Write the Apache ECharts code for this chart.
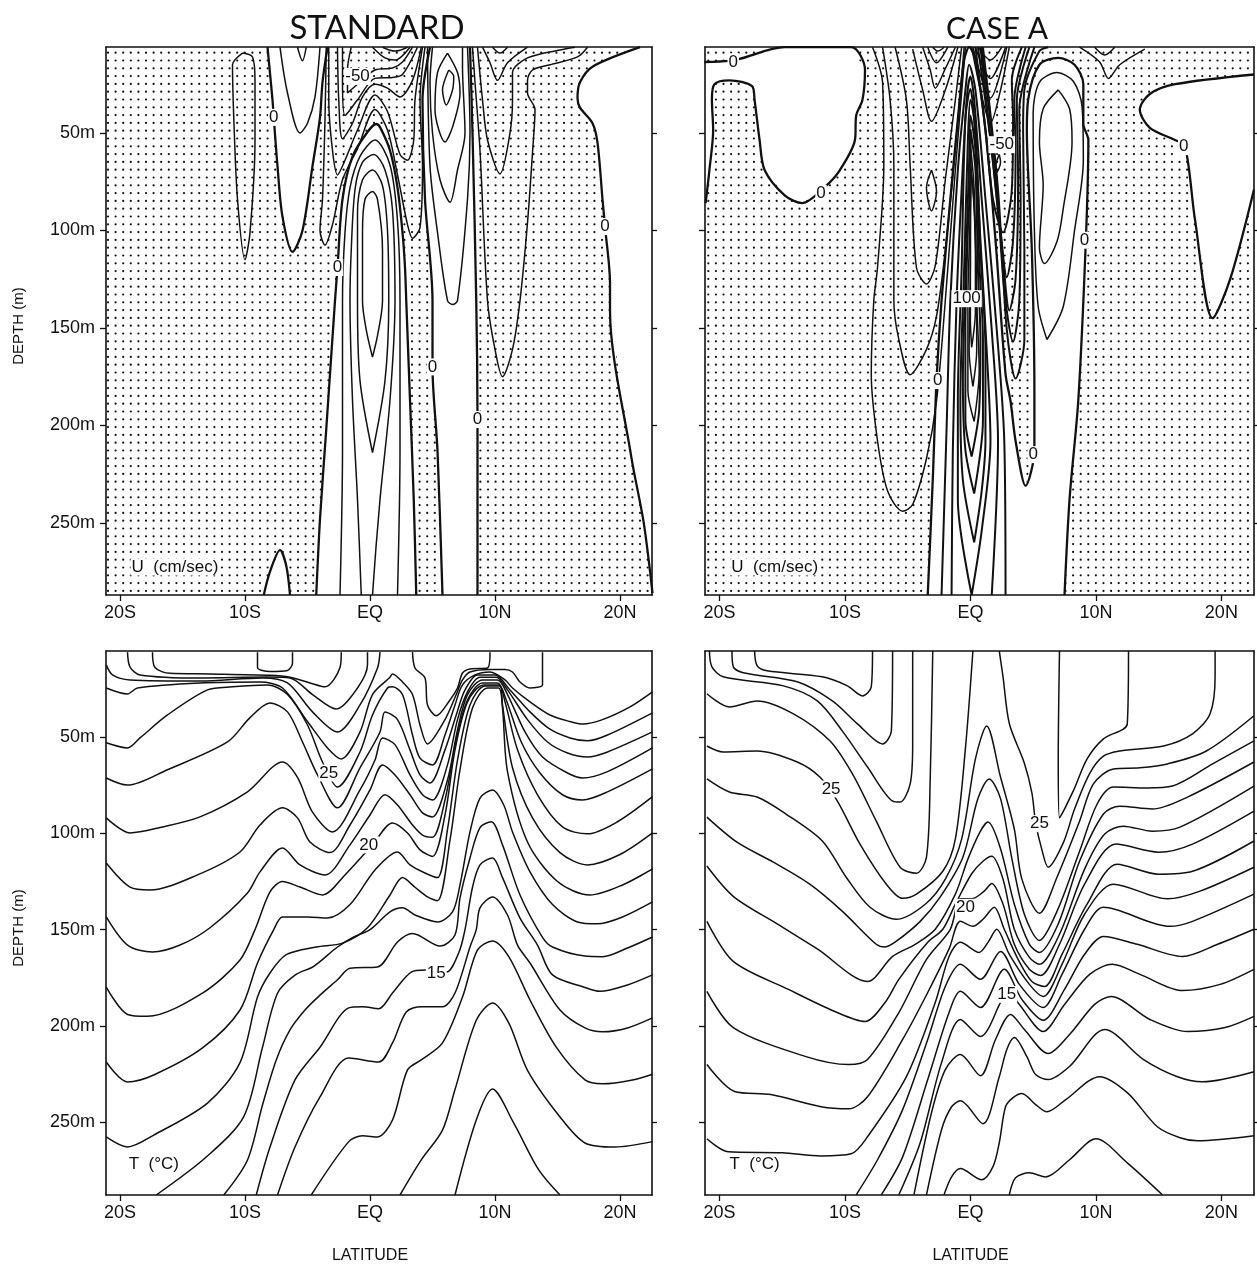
<!DOCTYPE html>
<html>
<head>
<meta charset="utf-8">
<style>html,body{margin:0;background:#fff}#main{width:1257px;height:1267px}</style>
<script src="https://cdn.jsdelivr.net/npm/echarts@6/dist/echarts.min.js"></script>
</head>
<body>
<div id="main"></div>
<script>
// axis ticks
const latTicks = [-20, -10, 0, 10, 20];
const latNames = { '-20': '20S', '-10': '10S', '0': 'EQ', '10': '10N', '20': '20N' };
const depthTicks = [50, 100, 150, 200, 250];

// U, standard case: zero contours [lat, depth]
const uStdZeroWest = [[-8.2,6],[-7.8,33],[-7.7,42],[-7.4,67],[-7,93],[-6.2,111],[-5.4,100],[-4.6,67],[-4,42],[-3.8,24],[-3.4,6]];
const uStdZeroCenter = [[-4.3,287],[-4,248],[-3.5,202],[-2.8,136],[-2.6,119],[-2.2,84],[-1.4,62],[-.2,49.5],[.5,45.4],[.8,47],[1.6,59],[2.2,78],[2.6,101],[2.8,119],[2.9,136],[3.2,187],[3.5,238],[3.7,287]];
const uStdZeroEastL = [[4.8,6],[4.2,33],[4.4,84],[5,136],[5,170],[5.4,213],[5.8,287]];
const uStdZeroEastR = [[8,6],[8.2,50],[8.5,136],[8.6,197],[8.6,287]];
const uStdZeroFar = [[21.6,6],[17.8,16],[16.8,24],[16.6,32],[16.8,37],[17.8,45],[18.2,55],[18.6,84],[18.8,98],[19.2,127],[19.2,141],[20.9,216],[21.9,250],[22.6,286]];
const uStdZeroBump = [[-8.5,287],[-8,275],[-7.2,264],[-6.7,272],[-6.4,287]];
const uStdLines = [
  [[-10.2,9],[-11,15],[-10.9,42],[-10.6,84],[-10,115],[-9.6,101],[-9.2,54],[-9.2,23],[-9.4,11],[-10.2,9]],
  [[-7.2,6],[-6.6,29.5],[-5.6,50],[-5,45],[-4.4,31.5],[-4,6]],
  [[-5.8,6],[-5.4,13],[-5.1,6]],
  [[-2.4,287],[-2.2,213],[-2.2,136],[-2,101],[-1.6,78],[-.8,62],[.4,53.6],[1.6,66.4],[2.2,95],[2.4,136],[2.4,213],[2.2,287]],
  [[-.7,287],[-1,238],[-1.4,187],[-1.6,136],[-1.5,110],[-1.2,79],[-.6,65],[.3,61],[1.2,69],[1.8,89.5],[2,136],[1.6,187],[.8,238],[.2,287]],
  [[.2,214],[-.8,177],[-1,136],[-1,119],[-1,91],[-.6,74],[.2,69],[1,77],[1.4,100],[1.5,136],[1.2,177],[.2,214]],
  [[.2,165],[-.3,151],[-.6,136],[-.6,101],[-.4,84],[.2,80],[.6,84],[1,110],[1,136],[.6,154],[.2,165]],
  [[-3.5,6],[-3.6,43],[-3.8,84],[-4,100],[-3.6,107.5],[-3,97],[-2.2,74],[-1,58],[.4,38],[1.4,48.5],[2.2,71.5],[3,97],[3.4,104],[4,98.5],[4.2,67],[4,33],[4.4,6]],
  [[-3.3,6],[-3.3,33],[-3,59],[-2.6,71.5],[-2,64],[-1,48.5],[.4,30.5],[1.4,39],[2.4,61],[3,64],[3.5,53.6],[3.6,33],[4.2,6]],
  [[-2.6,6],[-2.5,33],[-2.2,53],[-1.4,45],[-.6,31.5],[.4,25],[1.4,27],[2.4,31.5],[3.4,23],[4.1,6]],
  [[-2.2,6],[-2.2,24],[-2,41],[-1,33],[.4,22],[1.8,21.5],[2.6,20],[3.8,6]],
  [[-1.5,6],[-1.8,17.7],[-1.8,29.5],[-1,25],[.4,17.7],[1.8,16.7],[2.6,13.6],[3.4,6]],
  [[.2,6],[1.2,11.5],[2,12.6],[3.2,6]],
  [[1,6],[2,8],[3,6]],
  [[5,6],[4.8,24],[5,50],[5.6,74],[6.4,85.5],[7,69],[7.6,50],[7.4,16],[7.4,6]],
  [[4.6,6],[4.8,67],[5.4,101],[6.2,136],[6.6,138],[7,136],[7.8,84],[8,50],[7.8,6]],
  [[6.2,9],[5.4,19],[5.2,38],[6,54.6],[6.6,47],[7.2,29.5],[7,19],[6.2,9]],
  [[6.3,17.7],[5.8,28],[6.1,35.6],[6.6,28],[6.7,21],[6.3,17.7]],
  [[8.2,6],[8.4,24],[8.8,59],[9.4,136],[10,161],[10.6,175],[11.4,161],[12,136],[12.6,96],[13,60],[13.2,38],[12.6,29.5],[12.6,23],[13,17.7],[14.4,15],[16.6,11],[17.4,6]],
  [[8.6,6],[9,33],[9.4,53.6],[10.4,71],[11.2,50],[11.4,33],[11.4,19],[12.6,11.5],[15.2,7.4],[16.4,6]],
  [[9,6],[9.6,14],[10.2,23],[11,14],[12.6,6]],
  [[9.8,6],[10.4,9],[11,6]]
];
const uStdLabels = [[-7.7,42,'0'],[-2.6,119,'0'],[5,170,'0'],[8.6,197,'0'],[18.8,98,'0'],[-1,21,'-50'],[-15.6,272.6,'U  (cm/sec)']];

// U, case A: zero contours
const uCaseZeroWest = [[-21.2,13.6],[-19.2,13],[-18.4,12],[-14.8,6],[-9.5,6],[-8.4,17.7],[-8.6,33],[-9.1,41],[-9.2,53.6],[-10.4,69],[-11.6,77.7],[-13.4,86],[-14.8,82],[-16.4,69],[-16.8,53.6],[-17.2,33],[-17.4,26],[-19.2,23],[-20.4,25],[-20.6,33],[-20.5,48.5],[-20.8,69],[-21.1,86]];
const uCaseZeroCenter = [[-3.4,287],[-3,228],[-2.7,177],[-2.3,136],[-1.6,84],[-1,43],[-.5,12.6],[-.1,6],[.4,12.6],[1.2,48.5],[2,105],[2.8,173.7],[3.2,187.6],[3.6,208],[4.4,231],[5.1,213],[5.1,182.7],[4.9,110.7],[4.5,48.5],[4.6,33],[5.5,15],[7,11.5],[8.3,15],[9,25],[9,45.4],[9.4,53.6],[9.2,105],[8.6,187],[7.9,238],[7.5,287]];
const uCaseZeroFar = [[22.6,20],[16.3,25],[14.3,30],[13.5,38],[14.3,47.4],[16.3,53.6],[17.1,56.7],[17.9,94.6],[19.3,145],[20.7,125],[22.6,79]];
// core of the narrow jet, drawn heavier
const uCaseJet = [
  [[-2.3,287],[-1.9,202],[-1.6,136],[-1,69],[-.4,28],[-.1,15],[.4,28],[1.2,84],[2.1,151],[2.7,208],[2.8,287]],
  [[-1.5,287],[-1.4,212.6],[-1.1,136],[-.7,79],[-.3,33],[0,21],[.3,33],[.9,84],[1.7,151],[2.2,208],[1.7,287]],
  [[.1,287],[-1,238],[-1,187],[-.7,120],[-.4,43],[0,27.5],[.3,43],[.8,105],[1.3,161.6],[1.6,208],[.9,254],[.1,287]],
  [[.3,260],[-.6,228],[-.8,187],[-.5,120],[-.2,53.6],[0,33],[.4,48.5],[.8,110],[1.2,161.6],[1.2,208],[.9,233.6],[.3,260]],
  [[.3,235],[-.4,212.6],[-.6,177],[-.4,125],[-.1,64],[0,41],[.4,59],[.7,115],[1,156],[1,197],[.3,235]],
  [[.1,216],[-.4,197],[-.4,151],[-.2,100],[0,71],[0,48],[.4,69],[.6,120],[.8,156],[.7,192],[.1,216]],
  [[.4,6],[1.2,48.5],[1.8,84],[2.6,101],[3.3,79],[3.4,43],[3.3,23],[4.1,6]],
  [[.6,6],[1.6,53.6],[2.4,100],[2.9,124],[3.4,105],[3.6,59],[3.5,33],[4.4,6]],
  [[.8,6],[1.7,59],[2.6,115],[3.1,141],[3.6,125],[3.8,74],[3.7,33],[4.7,6]],
  [[.9,6],[2,69],[2.7,130.5],[3.4,157],[3.9,135.7],[4,84],[3.9,38],[5.1,6]],
  [[1,6],[2.2,79],[2.9,151],[3.6,176],[4.3,156],[4.3,110],[4.2,48.5],[4.3,28],[5.5,8],[6.2,6]]
];
const uCaseLines = [
  [[-7.8,6],[-7,24],[-6.9,67],[-7.4,119],[-7.7,136],[-7.9,173.7],[-7.4,208],[-6.6,233.6],[-5.4,244],[-4.6,240.6],[-3.5,217],[-2.7,187.6],[-2,136],[-1.2,69],[-.4,6]],
  [[-7,6],[-6.4,33],[-6.1,67],[-6.1,136],[-5.7,156],[-4.8,174],[-3.5,161],[-2.7,144],[-2,110],[-1.2,58.7],[-.5,6]],
  [[-6,6],[-5.1,33],[-4.8,67],[-4.3,119],[-3.5,127.5],[-2.8,118],[-2,74],[-1.2,33],[-.7,6]],
  [[-4.6,7],[-3.8,28],[-3.1,44],[-2,28],[-1,6]],
  [[-3.8,6],[-3.2,17.7],[-2.8,27],[-2,17],[-1.2,6]],
  [[-3.4,6],[-2.7,14],[-1.8,6]],
  [[-3,6],[-2.6,8],[-2.1,6]],
  [[-3.1,69],[-3.5,78],[-3.1,90],[-2.7,80],[-3.1,69]],
  [[.3,198],[-.2,182],[-.2,136],[0,84],[0,56],[.3,79],[.5,136],[.7,172],[.3,198]],
  [[.2,180],[-.1,161.6],[0,115],[0,64],[.3,89.5],[.5,136],[.5,161.6],[.2,180]],
  [[.1,160],[0,146],[0,105],[.1,71.5],[.4,105],[.4,141],[.1,160]],
  [[.6,6],[1.6,12.6],[2.5,6]],
  [[.4,6],[1.6,22],[2.8,6]],
  [[.2,6],[1.6,32],[2.9,6]],
  [[.1,6],[.8,28],[1.6,44.8],[2.4,28],[3.1,6]],
  [[2.3,61],[2,67.5],[2.1,70],[2.4,65],[2.3,61]],
  [[6.1,156],[5.4,139],[5.1,100],[5,40],[5.5,24],[6.9,19],[8.2,23.5],[8.9,36.5],[9,64],[8.3,100],[7.4,139],[6.1,156]],
  [[7,27.9],[5.8,37.6],[5.5,54.6],[5.8,76.6],[5.5,109],[5.9,117],[6.9,105.7],[7.4,88.7],[8.1,54.6],[7.9,37.6],[7,27.9]],
  [[8.7,6],[10.3,13.6],[11,22],[11.9,15],[13.9,7]],
  [[9.9,6],[10.7,10],[11.5,6]]
];
const uCaseLabels = [[-18.9,13.5,'0'],[-11.9,81,'0'],[-2.6,177,'0'],[5,215,'0'],[9.1,105,'0'],[17,57,'0'],[2.5,56,'-50'],[-.3,135,'100'],[-15.6,272.6,'U  (cm/sec)']];

// T, standard case
const tStdLines = [
  [[-9,6],[-9,14],[-8,16],[-6.6,15.5],[-6.2,11.6],[-6.2,6]],
  [[-17.4,6],[-17.2,14],[-16,17],[-12.8,17.3],[-8,18],[-6.4,19],[-4.8,22],[-3.6,24],[-2.4,14],[-2.3,6]],
  [[-19.4,6],[-19.2,13.7],[-18.4,17.8],[-13.6,19.4],[-8.2,18.9],[-6.4,19.4],[-4.6,28],[-2.7,35.5],[-1,24.6],[-.2,12.6],[-.2,6]],
  [[-21.1,12.6],[-20.6,17.8],[-19.2,20.4],[-13.6,21],[-8.6,19.4],[-6.6,22],[-4.6,37],[-2.6,47.4],[-.8,33.4],[.6,14.2],[.8,6]],
  [[3.4,6],[3.6,14.2],[4.4,19.4],[4.6,33.4],[5.3,39],[6.4,30.8],[7,24.6],[7.4,16.8],[8,14.7],[9.4,14.2],[9.6,6]],
  [[-21.1,24.6],[-19.4,27.7],[-18.6,24.6],[-13.6,22],[-8.8,21.5],[-7,24.6],[-5,42],[-3.4,55.7],[-2.3,61.4],[-.8,47.4],[.2,28],[1.6,19],[1.8,17.3],[2.6,21.5],[3.4,28],[4,43.8],[4.6,53.6],[6,41],[6.9,28],[7.4,20.4],[8,16.3],[9.6,15],[10.8,15],[11.4,16.3],[12,21.5],[12.8,24.6],[13.8,23],[13.8,17.8],[13.8,6]],
  [[-21.1,53],[-19.4,55.7],[-18.4,50.5],[-16.2,38.6],[-13,25.6],[-11,24],[-8.2,23],[-6.6,28],[-5,43.8],[-3.8,63],[-2.6,76],[-.8,57.8],[.2,38.6],[1.4,24.6],[1.8,24],[2.6,28],[3.4,49],[4,61],[5,64.5],[6,49],[6.8,33.4],[7.4,23],[8.4,17.8],[9.6,16.3],[10.8,20.4],[11.4,24.6],[12.8,31.8],[14.4,38.6],[16,42],[17,43.3],[18.6,41],[20.8,34.4],[22.6,26.6]],
  [[-21.1,71.3],[-19.4,75],[-16.2,67],[-11.4,52.6],[-9.6,40],[-8,32.4],[-6.6,37],[-5.4,52.6],[-4.2,69.7],[-2.6,86.8],[-.8,66],[.8,47.4],[1.2,37],[2.2,41],[3.2,56.7],[4,69.7],[4.8,73.9],[6,56.7],[6.9,38.6],[7.6,25.6],[8.6,17.8],[10,17.8],[11.2,25.6],[12.8,37],[14.4,46],[16,50.5],[17.4,52],[19,49],[22.6,37.5]],
  [[-21.1,92],[-19.2,99.8],[-16.8,97],[-13.6,91.5],[-9.8,78.5],[-7,63],[-5.8,71],[-4.6,89],[-3,99.3],[-.8,77.5],[.4,62],[1,50.5],[2,54],[3.2,69.7],[4.2,80],[5,82.7],[6.2,64.5],[7,41],[7.8,26.6],[8.8,19],[10.1,19],[11,25.6],[12.6,41],[14.2,52.6],[15.8,58.3],[17.4,60.4],[19,57.8],[22.6,47.4]],
  [[-21.1,115.4],[-19.2,127.9],[-17.6,129.4],[-13.8,121.6],[-10.4,109.7],[-8.8,95.7],[-7,86.8],[-5.8,92],[-4.8,104.5],[-3.2,110],[-1.6,95.7],[0,77.5],[1,64.5],[2,69.7],[3.2,80],[4.2,89.4],[5,91.5],[6.2,72.3],[7,46.4],[7.8,28],[9,20.4],[10.2,20.4],[11,28],[12.4,47.4],[13.8,60.4],[15.8,68.7],[17,71.3],[19,68],[22.6,55.7]],
  [[-21.1,143.4],[-19.4,158],[-17.4,161.6],[-15.2,158],[-12.8,149],[-9.8,131],[-8.8,120],[-7,107.6],[-5.6,116.4],[-3.6,121.6],[-1.6,106],[0,90.5],[1.2,80],[2.2,85.3],[3.4,95.7],[4.2,100.9],[5,102],[6,82.7],[6.9,51.6],[7.8,30.8],[9,22],[10.2,22],[10.9,30.8],[12.1,52.6],[13.6,68.7],[15.4,80],[17,82.7],[19,78.5],[22.6,66.6]],
  [[-21.1,179.8],[-19.4,194],[-17.8,195],[-13.4,182.9],[-10.4,165.7],[-9.2,150],[-8,130.4],[-7,125],[-5.6,127.9],[-3.8,132],[-2,121.6],[.2,106],[1.8,94.6],[3,99.8],[4,108.6],[5,112],[6,90.5],[6.8,56.7],[7.8,31.8],[9.1,23],[10.3,23],[10.8,31.8],[11.8,56.7],[13.4,80],[15.4,96.7],[17.4,100.3],[19.8,94],[22.6,81]],
  [[-21.1,218.7],[-19.4,229],[-17.3,225.4],[-13.4,211.4],[-10.4,191.7],[-9,167.3],[-7.7,150],[-7,143.4],[-5,143.4],[-3.4,144],[-1.6,137],[.4,119],[2.2,109.7],[3.2,116.4],[4.4,120.6],[5.4,123],[6.2,98],[7,62],[8,33.4],[9.2,23.5],[10.4,23.5],[10.6,33.4],[11.4,66],[13,92],[15.2,110],[17.4,116.4],[20,111],[22.6,99.8]],
  [[-21.1,257.6],[-19.4,262.8],[-17.3,256.6],[-13,240],[-10.4,219],[-9,185],[-8,172.5],[-6.7,163],[-4.3,159],[-2.2,157],[-.2,149],[1.6,132],[2.6,123],[3.6,128],[4.6,133],[5.4,135],[6.4,103.5],[7.2,67],[8.2,35],[9.4,24.6],[10.3,24.6],[10.6,35],[11,68],[12.6,104.5],[15,125],[17.6,132],[20.2,126.8],[22.6,118.5]],
  [[-17.1,287.7],[-13.1,268],[-10.1,247],[-8.6,211],[-7.4,183],[-6,173.6],[-4.5,169],[-2.6,159],[-1.3,153.8],[0,150],[1.6,140.8],[2.6,138.7],[3.6,142.4],[5.4,146],[6.6,140.8],[7.2,126.8],[8,99.3],[8.8,81.7],[9.8,77.5],[10.7,85.3],[11.4,99.3],[12.8,120],[14.6,137],[16.6,146],[18.2,147],[20.2,143.4],[22.6,135.6]],
  [[-11.7,287.7],[-9.8,269.5],[-8.6,241],[-7.5,217.6],[-6.4,202],[-5.2,191.7],[-4,184],[-2.6,176],[-1.6,170],[.6,169.4],[2.2,156.4],[3.4,152],[5.6,158.5],[6.8,152.8],[7.2,133.6],[8,112.8],[8.8,97],[9.7,94],[10.6,106],[12,132],[13.8,154],[14.6,159],[17.2,163.7],[18.6,164],[20.6,159.5],[22.6,153.8]],
  [[-9.1,287.7],[-8,262.8],[-6,228],[-4,211],[-1.7,190.6],[-.6,190],[.7,191],[1.8,182.9],[3.3,172],[4.4,171],[6.1,172],[7.1,162],[7.6,150],[8.2,128],[8.8,116.4],[9.8,112.8],[10.6,123],[12,144],[13.4,158],[14.6,173.5],[17.2,180],[18.4,182],[20.6,178.7],[22.6,173.5]],
  [[-7.4,287.7],[-6,262.8],[-4,236.8],[-1.7,216.6],[.7,218.7],[1.8,208.8],[2.9,192.7],[4.1,190],[5.8,190],[6.8,182.9],[8,159],[8.5,150],[8.8,138.7],[9.8,133],[11,142.4],[11.8,158],[12.8,167.3],[15.2,191.7],[17.2,201],[18.6,203],[20.6,201],[22.6,195.8]],
  [[-4.7,287.7],[-1.7,260],[-.6,257],[.6,257.6],[1.8,248.8],[3,222.8],[4.1,217.6],[5.8,208.8],[7.4,185],[8.6,160.5],[9.8,155.9],[11.1,164],[12.8,186.5],[14.9,211],[17.2,228],[18.6,230],[21,228],[22.6,225]],
  [[2.4,287.7],[4.1,269.5],[5.8,254],[6.8,233],[8.5,197],[9.8,188],[11.1,198.4],[12.6,223],[15.2,247.2],[17.2,260.7],[19.6,262.8],[22.6,260]],
  [[6.8,287.7],[8.5,248.8],[9.8,232.7],[11.5,250.4],[13.5,274.7],[15.2,287.7]]
];
const tStdLabels = [[-3.3,68.7,'25'],[-.1,106,'20'],[5.3,172.5,'15'],[-17.3,272,'T  (°C)']];

// T, case A
const tCaseLines = [
  [[-17.2,5.3],[-17,13],[-16.2,15.7],[-11.8,18.8],[-9.8,23.5],[-8.6,28.7],[-7.9,24],[-7.8,5.3]],
  [[-19,5.3],[-18.9,13.6],[-18.1,16.7],[-13.8,21.4],[-11,31.3],[-9,43.2],[-7,53.6],[-6.3,47],[-6.2,5.3]],
  [[-20.8,5.3],[-20.6,13.6],[-19.7,18.8],[-14.9,23.5],[-12.2,31.3],[-10.2,47],[-8.2,65.6],[-6.2,83.3],[-5.6,83.8],[-4.8,74.4],[-4.6,53.6],[-4.6,5.3]],
  [[-21,27.6],[-19.2,34.4],[-17,31.3],[-14.1,38],[-11.2,52],[-9.4,69.2],[-7.5,93.7],[-5.6,117.6],[-4.3,120.7],[-3.5,112.4],[-3.2,70.8],[-3,5.3]],
  [[-21,54.7],[-19.7,57.8],[-17,57.3],[-13.8,63],[-12,70.8],[-10.6,83.3],[-8.8,105.6],[-6.7,126.4],[-5.4,133.7],[-4.3,131.6],[-2.2,119.7],[-1.2,103],[-.4,56.2],[.2,5.3]],
  [[-21,71.8],[-19.2,78.6],[-17,81.2],[-14.7,90],[-11.8,104],[-9.9,122.8],[-8,138.4],[-5.9,144.6],[-3.6,136.8],[-2,123.8],[-.7,103],[.4,61.4],[1.3,44.3],[2.4,70.8],[3.5,97.8],[4.1,123.8],[5.5,141.5],[6.9,122.8],[8.7,93.7],[9.8,74.4],[11.4,66.6],[13.5,66],[15.7,64],[18.8,57.3],[22.6,39]],
  [[2.3,5.3],[2.6,18.8],[3.1,43],[4.3,63.6],[4.9,79],[5.2,94.6],[5.7,108.6],[6.2,117.6],[7.4,105],[8.3,87.4],[9.5,69],[10.6,60],[11.9,57.3],[15.4,54.7],[17.7,48.4],[19.1,38],[19.5,18.8],[19.5,5.3]],
  [[7.1,5.3],[7,62.5],[7.1,92],[8.2,78],[9.3,61.4],[10.6,51],[12.5,43.2],[12.6,5.3]],
  [[-21,91.6],[-18.6,104.6],[-15.7,115],[-12.8,126.4],[-10.2,140.5],[-7.5,157.6],[-6.8,159],[-5.9,156],[-4,145.7],[-2.4,133],[-.6,112.4],[.6,82],[1.5,71.8],[2.4,82],[3.3,113],[4.3,142],[5.5,155.6],[6.9,140.5],[8.7,109.3],[10.1,84.8],[11.4,76],[14.1,76.5],[16.1,75.5],[19.3,64],[22.6,52]],
  [[-21,117],[-18.9,132.7],[-15.4,147],[-12.2,160],[-8.2,176.9],[-6.2,163.9],[-4.4,157.6],[-2.8,149.8],[-1.2,131.6],[-.2,113.4],[.8,98.9],[1.4,94.2],[2.4,108],[3.5,136.8],[4.7,157.6],[5.5,161.8],[7,147],[8.7,114.5],[10.6,90],[11.9,85.9],[14.5,87.4],[17.3,81.2],[22.6,63]],
  [[-21,145.7],[-18.9,166.5],[-14.5,181],[-10.8,192.5],[-8.4,197.7],[-6.8,187.8],[-5.7,175.8],[-3.4,156.6],[-2.2,149.8],[-1.2,136.8],[.1,121],[1,114.5],[1.7,111.9],[2.6,123.8],[3.5,149.8],[4.7,164.4],[5.5,168],[7.1,152.4],[9.1,118.6],[10.7,100.4],[12.2,96.3],[14.5,98.9],[16.7,96.8],[22.6,75.5]],
  [[-21,182],[-18.9,200.8],[-13.1,215.9],[-9.7,220],[-8.2,217.4],[-5.7,193],[-3.5,165.4],[-1.6,149.8],[-.8,134],[.1,134],[1.1,130],[1.7,126],[2.6,136.8],[3.5,157.6],[4.7,170.6],[5.6,173.8],[7.1,157.6],[9.1,126.4],[11.6,105.6],[15,109.8],[17.7,105.6],[22.6,88.5]],
  [[-21,220],[-18.8,234],[-15.9,235.6],[-11.9,241.9],[-9.7,243],[-8.2,236.7],[-5.4,207],[-3.4,182.6],[-1.7,160],[-.8,145.7],[.2,148.3],[1,144.6],[1.9,138.4],[2.7,149.8],[3.8,165.4],[4.9,176.9],[5.9,179.5],[7.3,162.8],[9.3,136.8],[11.7,116],[15,121.2],[17.7,119.7],[22.6,104]],
  [[-21,258.5],[-19.3,265.3],[-15,265.8],[-11.9,267.4],[-9.5,266.3],[-8.2,257.5],[-5.1,226.3],[-2.8,187.8],[-1.7,163.9],[-.8,156.6],[.7,161.8],[1.4,156.6],[2.1,149.8],[3.1,162.8],[4.7,178.4],[5.8,184.7],[7.3,168],[9.1,142],[11.4,126.4],[15.7,134],[18.3,130],[22.6,117.6]],
  [[-9.1,287.6],[-7.4,269.4],[-5.4,243.4],[-3.4,207],[-2,179.5],[-.8,168],[.8,175.8],[2.4,161.3],[3.9,178.4],[5.8,190.4],[7.3,173.2],[9.1,149.8],[10.6,138.4],[15.9,148.3],[17.7,145.7],[22.6,131.6]],
  [[-7.1,287.6],[-5.4,267.9],[-3.4,227.8],[-1.7,193],[-.8,182],[.8,190.4],[2.7,170.6],[4.1,186.2],[5.8,197],[7.5,181],[9.1,162.8],[10.6,153.5],[13.3,157.6],[16.9,163.9],[19.7,157.6],[22.6,149.8]],
  [[-5.7,287.6],[-4,260.6],[-2.3,219],[-.8,196.6],[.8,205.5],[2.4,187.8],[2.9,181],[3.9,188.8],[5.8,202.9],[7.5,188.8],[9.5,173.2],[11.3,168],[13.5,173.2],[16.9,181.6],[19.9,178.4],[22.6,170.6]],
  [[-4.5,287.6],[-3.1,245],[-2,222.6],[-.8,214.8],[.8,225.8],[2,207],[3.2,194],[4.3,201.8],[6.2,214.3],[7.9,204.4],[9.9,188.8],[11.2,184.7],[14.3,196.6],[17.3,202.9],[20.3,200.8],[22.6,195]],
  [[-3.5,287.6],[-2.3,253.8],[-1.5,241.9],[-.8,238.8],[1,250.7],[2.3,226.3],[2.9,212.2],[3.5,206],[4.5,215.9],[5.2,225.2],[6.2,227.8],[7.9,221],[10.7,201.8],[13.8,217.4],[16.5,226.3],[18.5,228.9],[22.6,223.7]],
  [[-2.1,287.6],[-1.5,278.3],[-.8,274],[.9,279.8],[1.8,273],[2.3,260.6],[2.8,241.9],[3.4,237.2],[4.1,235],[5.2,240.8],[6.1,244.5],[7.6,238.2],[10.3,226.3],[12.5,234.6],[14.9,252.3],[16.7,258],[18.1,259.6],[22.6,257]],
  [[3.1,287.6],[3.6,278.8],[4.7,276.2],[6,278.3],[7.9,269.4],[10,258.5],[12.5,271],[15.3,287.6]]
];
const tCaseLabels = [[-11.1,77,'25'],[5.5,95,'25'],[-.4,138.4,'20'],[2.9,183.6,'15'],[-17.2,272,'T  (°C)']];

const textFont = '"Liberation Sans", sans-serif';

// dot screen used for the westward flow, tile of 5 by 5 dots
function makeStipple(dx, dy) {
  const cv = document.createElement('canvas');
  cv.width = 38;
  cv.height = 39;
  const ctx = cv.getContext('2d');
  ctx.fillStyle = '#111';
  for (let i = 0; i < 5; i++) {
    for (let j = 0; j < 5; j++) {
      ctx.beginPath();
      ctx.arc(dx + i * 7.6, dy + j * 7.8, 1.1, 0, Math.PI * 2);
      ctx.fill();
    }
  }
  return { image: cv, repeat: 'repeat' };
}

const panels = [
  { left: 106, top: 47, width: 546, height: 548, lat: [-21.12, 22.56], depth: [5.9, 287] },
  { left: 705, top: 47, width: 549, height: 548, lat: [-21.15, 22.6], depth: [5.9, 287] },
  { left: 106, top: 651, width: 546, height: 544, lat: [-21.12, 22.56], depth: [5.4, 287.7] },
  { left: 705, top: 651, width: 549, height: 544, lat: [-21.15, 22.6], depth: [5.4, 287.7] }
];

const grids = [], xAxes = [], yAxes = [], series = [];

panels.forEach(function (p, i) {
  grids.push({ left: p.left, top: p.top, width: p.width, height: p.height });
  const lineStyle = { color: '#111', width: 1.6 };
  xAxes.push({
    type: 'value', gridIndex: i, min: p.lat[0], max: p.lat[1], position: 'bottom', z: 10,
    splitLine: { show: false },
    axisLine: { onZero: false, lineStyle: lineStyle },
    axisTick: { customValues: latTicks, length: 6, lineStyle: { color: '#111', width: 1.3 } },
    axisLabel: {
      customValues: latTicks, margin: 9, color: '#111', fontSize: 18, fontFamily: textFont,
      formatter: function (v) { return latNames[v]; }
    },
    name: i >= 2 ? 'LATITUDE' : '', nameLocation: 'middle', nameGap: 53,
    nameTextStyle: { color: '#111', fontSize: 16, fontFamily: textFont, padding: [0, 18, 0, 0] }
  });
  xAxes.push({
    type: 'value', gridIndex: i, min: p.lat[0], max: p.lat[1], position: 'top', z: 10,
    splitLine: { show: false },
    axisLine: { onZero: false, lineStyle: lineStyle }, axisTick: { show: false }, axisLabel: { show: false }
  });
  yAxes.push({
    type: 'value', gridIndex: i, min: p.depth[0], max: p.depth[1], inverse: true, position: 'left', z: 10,
    splitLine: { show: false },
    axisLine: { onZero: false, lineStyle: lineStyle },
    axisTick: { customValues: depthTicks, length: 6, lineStyle: { color: '#111', width: 1.3 } },
    axisLabel: {
      show: i % 2 === 0, customValues: depthTicks, margin: 11, color: '#111', fontSize: 18, fontFamily: textFont,
      formatter: function (v) { return v + 'm'; }
    },
    name: i % 2 === 0 ? 'DEPTH (m)' : '', nameLocation: 'middle', nameRotate: 90, nameGap: 80,
    nameTextStyle: { color: '#111', fontSize: 15, fontFamily: textFont, padding: [0, 10, 0, 0] }
  });
  yAxes.push({
    type: 'value', gridIndex: i, min: p.depth[0], max: p.depth[1], inverse: true, position: 'right', z: 10,
    splitLine: { show: false },
    axisLine: { onZero: false, lineStyle: lineStyle },
    axisTick: { customValues: depthTicks, length: 5, lineStyle: { color: '#111', width: 1.3 } },
    axisLabel: { show: false }
  });
});

function addAreas(panel, polys, fill, z) {
  series.push({
    type: 'custom', coordinateSystem: 'cartesian2d', xAxisIndex: panel * 2, yAxisIndex: panel * 2,
    silent: true, clip: true, z: z, animation: false,
    data: polys.map(function (q, k) { return [k]; }),
    renderItem: function (params, api) {
      const pts = polys[params.dataIndex].map(function (d) { return api.coord(d); });
      return { type: 'polygon', shape: { points: pts }, style: { fill: fill, stroke: null } };
    }
  });
}

function addLines(panel, lines, width) {
  lines.forEach(function (pts) {
    series.push({
      type: 'line', xAxisIndex: panel * 2, yAxisIndex: panel * 2, data: pts, showSymbol: false,
      smooth: 0.3, silent: true, z: 4, animation: false,
      lineStyle: { color: '#111', width: width }
    });
  });
}

function addLabels(panel, labels) {
  series.push({
    type: 'scatter', xAxisIndex: panel * 2, yAxisIndex: panel * 2, symbolSize: 0, silent: true, z: 6, animation: false,
    itemStyle: { opacity: 1 },
    data: labels.map(function (l) { return { value: [l[0], l[1]], name: l[2] }; }),
    label: {
      show: true, position: 'inside', formatter: '{b}', color: '#111', fontSize: 17, opacity: 1,
      fontFamily: textFont, backgroundColor: '#fff', padding: [0, 1]
    }
  });
}

function wholePanel(p) {
  return [[p.lat[0], p.depth[0]], [p.lat[1], p.depth[0]], [p.lat[1], p.depth[1]], [p.lat[0], p.depth[1]]];
}

// standard U: screen, then the eastward regions wiped white
addAreas(0, [wholePanel(panels[0])], makeStipple(1.6, 5.9), 1);
addAreas(0, [
  uStdZeroWest,
  uStdZeroCenter,
  uStdZeroEastL.concat(uStdZeroEastR.slice().reverse()),
  uStdZeroFar.concat([[22.6, 287], [22.6, 5.9]]),
  uStdZeroBump
], '#fff', 2);
addLines(0, [uStdZeroWest, uStdZeroCenter, uStdZeroEastL, uStdZeroEastR, uStdZeroFar, uStdZeroBump], 2.3);
addLines(0, uStdLines, 1.5);
addLabels(0, uStdLabels);

// case A U
addAreas(1, [wholePanel(panels[1])], makeStipple(1.5, 5.9), 1);
addAreas(1, [uCaseZeroWest, uCaseZeroCenter, uCaseZeroFar], '#fff', 2);
addLines(1, [uCaseZeroWest, uCaseZeroCenter, uCaseZeroFar], 2.3);
addLines(1, uCaseJet, 2);
addLines(1, uCaseLines, 1.5);
addLabels(1, uCaseLabels);

// temperature panels
addLines(2, tStdLines, 1.5);
addLabels(2, tStdLabels);
addLines(3, tCaseLines, 1.5);
addLabels(3, tCaseLabels);

const chart = echarts.init(document.getElementById('main'));
chart.setOption({
  animation: false,
  backgroundColor: '#fff',
  title: [
    { text: 'STANDARD', left: 372, top: 7, textAlign: 'center', textStyle: { fontFamily: 'Lato', fontWeight: 'normal', fontSize: 33, color: '#111' } },
    { text: 'CASE A', left: 992, top: 9, textAlign: 'center', textStyle: { fontFamily: 'Lato', fontWeight: 'normal', fontSize: 30, color: '#111' } }
  ],
  grid: grids,
  xAxis: xAxes,
  yAxis: yAxes,
  series: series
});
</script>
</body>
</html>
